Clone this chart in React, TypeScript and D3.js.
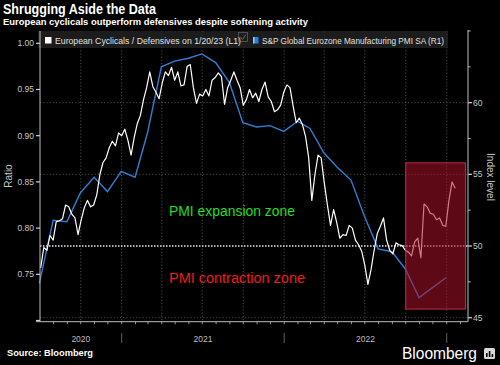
import React from "react";
import * as d3 from "d3";

const W = 500;
const H = 365;

// PMI monthly (plotted at month end)
const pmiDates = [
  "2020-06-30", "2020-07-31", "2020-08-31", "2020-09-30", "2020-10-31", "2020-11-30", "2020-12-31",
  "2021-01-31", "2021-02-28", "2021-03-31", "2021-04-30", "2021-05-31", "2021-06-30",
  "2021-07-31", "2021-08-31", "2021-09-30", "2021-10-31", "2021-11-30", "2021-12-31",
  "2022-01-31", "2022-02-28", "2022-03-31", "2022-04-30", "2022-05-31", "2022-06-30",
  "2022-07-31", "2022-08-31", "2022-09-30", "2022-10-31", "2022-11-30", "2022-12-31",
];
const pmiValues = [
  47.4, 51.8, 51.7, 53.7, 54.8, 53.8, 55.2,
  54.8, 57.9, 62.5, 62.9, 63.1, 63.4,
  62.8, 61.4, 58.6, 58.3, 58.4, 58.0,
  58.7, 58.2, 56.5, 55.5, 54.6, 52.1,
  49.8, 49.6, 48.4, 46.4, 47.1, 47.8,
];

// Cyclicals / Defensives ratio, weekly (Fridays) from 2020-07-03 to 2023-01-20
const ratioStart = "2020-07-03";
const ratioValues = [
  0.757, 0.779, 0.776, 0.792, 0.787, 0.807, 0.808, 0.810, 0.825, 0.823,
  0.815, 0.811, 0.793, 0.809, 0.822, 0.830, 0.823, 0.825, 0.836, 0.858,
  0.871, 0.876, 0.887, 0.894, 0.889, 0.903, 0.900, 0.907, 0.895, 0.879,
  0.898, 0.913, 0.922, 0.939, 0.952, 0.969, 0.953, 0.947, 0.940, 0.957,
  0.969, 0.965, 0.974, 0.960, 0.969, 0.954, 0.955, 0.975, 0.977, 0.952,
  0.935, 0.945, 0.943, 0.950, 0.943, 0.960, 0.963, 0.968, 0.964, 0.934,
  0.952, 0.960, 0.969, 0.960, 0.952, 0.933, 0.939, 0.950, 0.941, 0.946,
  0.937, 0.950, 0.958, 0.942, 0.937, 0.926, 0.928, 0.933, 0.947, 0.955,
  0.952, 0.932, 0.914, 0.919, 0.912, 0.899, 0.876, 0.830, 0.858, 0.879,
  0.876, 0.849, 0.825, 0.803, 0.820, 0.806, 0.789, 0.793, 0.792, 0.803,
  0.800, 0.787, 0.782, 0.775, 0.760, 0.739, 0.755, 0.776, 0.794, 0.802,
  0.811, 0.787, 0.776, 0.772, 0.784, 0.782, 0.781, 0.776, 0.774, 0.770,
  0.785, 0.789, 0.768, 0.826, 0.823, 0.816, 0.815, 0.809, 0.811, 0.803,
  0.802, 0.830, 0.850, 0.843,
];

const leftTicks = [0.7, 0.75, 0.8, 0.85, 0.9, 0.95, 1.0];
const rightTicks = [45, 50, 55, 60];
const rightMinorTicks = [47.5, 52.5, 57.5, 62.5, 65];
const years = ["2020", "2021", "2022"];
const highlightStart = "2022-10-01";
const highlightEnd = "2023-02-12";
const highlightLow = 45.6;
const highlightHigh = 55.8;

const FONT = "'Liberation Sans', Arial, sans-serif";

export default function App() {
  const L = 40, R = 468, T = 31, B = 321.7;
  const parse = d3.utcParse("%Y-%m-%d");
  const x = d3
    .scaleUtc()
    .domain([new Date(Date.UTC(2020, 6, 1, 12)), new Date(Date.UTC(2023, 1, 17, 19))])
    .range([L, R]);
  const yL = d3.scaleLinear().domain([0.6987, 1.0133]).range([B, T]);
  const yR = d3.scaleLinear().domain([44.72, 65.0]).range([B, T]);

  const start = parse(ratioStart)!;
  const ratioData = ratioValues.map((v, i) => ({ d: d3.utcDay.offset(start, 7 * i), v }));
  const pmiData = pmiDates.map((s, i) => ({ d: parse(s)!, v: pmiValues[i] }));

  const ratioLine = d3
    .line<{ d: Date; v: number }>()
    .x((p) => x(p.d))
    .y((p) => yL(p.v));
  const pmiLine = d3
    .line<{ d: Date; v: number }>()
    .x((p) => x(p.d))
    .y((p) => yR(p.v));

  const [d0, d1] = x.domain();
  const quarters = d3.utcMonth.every(3)!.range(d0, d1).filter((d) => x(d) > L + 1);
  const months = d3.utcMonth.range(d0, d1);
  const yearStarts = d3.utcYear.range(d0, d1);
  const yearCenters = years.map((y) => {
    const a = Math.max(L, x(new Date(Date.UTC(+y, 0, 1))));
    const b = Math.min(R, x(new Date(Date.UTC(+y + 1, 0, 1))));
    return (a + b) / 2;
  });

  const hx0 = x(parse(highlightStart)!);
  const hx1 = x(parse(highlightEnd)!);
  const hy0 = yR(highlightHigh);
  const hy1 = yR(highlightLow);

  return (
    <svg width={W} height={H} style={{ position: "absolute", left: 0, top: 0, background: "#000" }}>
      <rect x={0} y={0} width={W} height={H} fill="#000" />
      {/* Title */}
      <text x={3} y={14} fill="#fff" fontFamily={FONT} fontWeight="bold" fontSize={14} textLength={153} lengthAdjust="spacingAndGlyphs">
        Shrugging Aside the Data
      </text>
      <text x={3} y={25} fill="#fff" fontFamily={FONT} fontWeight="bold" fontSize={9.5} textLength={305} lengthAdjust="spacingAndGlyphs">
        European cyclicals outperform defensives despite softening activity
      </text>

      {/* vertical grid */}
      {quarters.map((d, i) => (
        <line key={"q" + i} x1={x(d)} x2={x(d)} y1={T} y2={B} stroke="#6a6a6a" strokeWidth={0.7} strokeDasharray="1.2,2" />
      ))}
      {/* horizontal grid */}
      {rightTicks.map((t) => (
        <line
          key={"h" + t}
          x1={L}
          x2={R}
          y1={yR(t)}
          y2={yR(t)}
          stroke={t === 50 ? "#e6e6e6" : "#6a6a6a"}
          strokeWidth={t === 50 ? 1.4 : 0.7}
          strokeDasharray={t === 50 ? "1.5,1.5" : "1.2,2"}
        />
      ))}

      {/* lines */}
      <path d={pmiLine(pmiData) || ""} fill="none" stroke="#2f7fd6" strokeWidth={1.4} />
      <path d={ratioLine(ratioData) || ""} fill="none" stroke="#fff" strokeWidth={1.2} strokeLinejoin="round" />

      {/* highlight */}
      <rect x={hx0} y={hy0} width={hx1 - hx0} height={hy1 - hy0} fill="rgba(170,16,40,0.55)" stroke="#c02a44" strokeWidth={1} />

      {/* annotations */}
      <text x={169} y={216} fill="#22dd22" fontFamily={FONT} fontSize={14} textLength={126} lengthAdjust="spacingAndGlyphs">
        PMI expansion zone
      </text>
      <text x={169} y={283} fill="#ee1c1c" fontFamily={FONT} fontSize={14} textLength={136} lengthAdjust="spacingAndGlyphs">
        PMI contraction zone
      </text>

      {/* legend */}
      <rect x={38} y={31} width={410} height={17} fill="rgba(38,38,38,0.75)" />
      <rect x={45} y={37} width={6.5} height={6.5} fill="#fff" />
      <text x={55} y={44} fill="#e0e0e0" fontFamily={FONT} fontSize={8.5} textLength={186} lengthAdjust="spacingAndGlyphs">
        European Cyclicals / Defensives on 1/20/23 (L1)
      </text>
      <g opacity={0.6}>
        <rect x={238.5} y={32.5} width={9} height={9} fill="none" stroke="#888" strokeWidth={0.8} />
        <path d="M240.5,37 L242.5,39.5 L246,34.5" fill="none" stroke="#999" strokeWidth={0.9} />
      </g>
      <rect x={253} y={37} width={5.5} height={6.5} fill="#2f7fd6" />
      <rect x={253} y={37} width={1.5} height={6.5} fill="#9cc8f2" />
      <text x={262} y={44} fill="#e0e0e0" fontFamily={FONT} fontSize={8.5} textLength={182} lengthAdjust="spacingAndGlyphs">
        S&amp;P Global Eurozone Manufacturing PMI SA (R1)
      </text>

      {/* left axis */}
      <line x1={L} x2={L} y1={T} y2={B} stroke="#bdbdbd" strokeWidth={1} />
      {leftTicks.map((t) => (
        <g key={"l" + t}>
          <line x1={L - 4} x2={L} y1={yL(t)} y2={yL(t)} stroke="#d0d0d0" strokeWidth={1.2} />
          {t >= 0.75 && (
            <text x={L - 6} y={yL(t) + 3} fill="#c8c8c8" fontFamily={FONT} fontSize={8.5} textAnchor="end">
              {d3.format(".2f")(t)}
            </text>
          )}
        </g>
      ))}
      <text transform={`translate(12,176) rotate(-90)`} fill="#c8c8c8" fontFamily={FONT} fontSize={10} textAnchor="middle">
        Ratio
      </text>

      {/* right axis */}
      <line x1={R} x2={R} y1={T - 1} y2={B} stroke="#bdbdbd" strokeWidth={1} />
      {rightTicks.map((t) => (
        <g key={"r" + t}>
          <line x1={R} x2={R + 4} y1={yR(t)} y2={yR(t)} stroke="#d0d0d0" strokeWidth={1.2} />
          <text x={R + 5} y={yR(t) + 3} fill="#c8c8c8" fontFamily={FONT} fontSize={8.5}>
            {t}
          </text>
        </g>
      ))}
      {rightMinorTicks.map((t) => (
        <line key={"rm" + t} x1={R} x2={R + 2.5} y1={yR(t)} y2={yR(t)} stroke="#bdbdbd" strokeWidth={1} />
      ))}
      <text transform={`translate(487,177) rotate(90)`} fill="#c8c8c8" fontFamily={FONT} fontSize={10} textAnchor="middle">
        Index level
      </text>

      {/* bottom axis */}
      <line x1={L - 4} x2={R} y1={B} y2={B} stroke="#bdbdbd" strokeWidth={1} />
      {months.map((d, i) => (
        <line key={"m" + i} x1={x(d)} x2={x(d)} y1={B} y2={B + 2.5} stroke="#bdbdbd" strokeWidth={0.8} />
      ))}
      {yearStarts.map((d, i) => (
        <line key={"ys" + i} x1={x(d)} x2={x(d)} y1={333} y2={343} stroke="#7a7a7a" strokeWidth={0.8} />
      ))}
      {years.map((y, i) => (
        <text key={y} x={yearCenters[i]} y={341.5} fill="#bdbdbd" fontFamily={FONT} fontSize={8.5} textAnchor="middle">
          {y}
        </text>
      ))}

      {/* footer */}
      <text x={7} y={356} fill="#fff" fontFamily={FONT} fontWeight="bold" fontSize={8.5} textLength={86} lengthAdjust="spacingAndGlyphs">
        Source: Bloomberg
      </text>
      <text x={402} y={358.5} fill="#fff" fontFamily={FONT} fontSize={16} textLength={75} lengthAdjust="spacingAndGlyphs">
        Bloomberg
      </text>
      <g>
        <rect x={484} y={348} width={11} height={11} rx={1.5} fill="#d8d8d8" />
        <rect x={486} y={353} width={1.6} height={4} fill="#000" />
        <rect x={488.8} y={351} width={1.6} height={6} fill="#000" />
        <rect x={491.6} y={354} width={1.6} height={3} fill="#000" />
      </g>
    </svg>
  );
}
